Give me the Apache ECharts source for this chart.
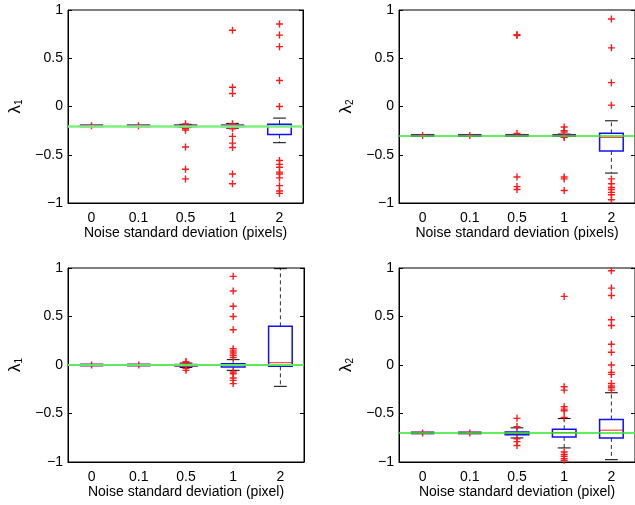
<!DOCTYPE html>
<html>
<head>
<meta charset="utf-8">
<script src="https://cdn.jsdelivr.net/npm/echarts@6/dist/echarts.min.js"></script>
<style>
  html, body { margin: 0; padding: 0; background: #fff; }
  #chart { width: 635px; height: 505px; }
</style>
</head>
<body>
<div id="chart"></div>
<script>
// noise levels on the x axis
const categories = ["0", "0.1", "0.5", "1", "2"];

// true value of each eigenvalue (green reference line)
const trueValues = [-0.2, -0.3, 0, -0.7];

// boxes: [lower whisker, Q1, median, Q3, upper whisker] per noise level
const boxesTL = [
  [-0.2, -0.2, -0.2, -0.2, -0.2],
  [-0.2, -0.2, -0.2, -0.2, -0.2],
  [-0.215, -0.205, -0.2, -0.195, -0.185],
  [-0.225, -0.21, -0.2, -0.19, -0.175],
  [-0.375, -0.29, -0.205, -0.183, -0.12]
];
const boxesTR = [
  [-0.3, -0.3, -0.3, -0.3, -0.3],
  [-0.3, -0.3, -0.3, -0.3, -0.3],
  [-0.31, -0.305, -0.3, -0.295, -0.29],
  [-0.31, -0.305, -0.3, -0.295, -0.286],
  [-0.69, -0.46, -0.32, -0.278, -0.148]
];
const boxesBL = [
  [0, 0, 0, 0, 0],
  [0, 0, 0, 0, 0],
  [-0.025, -0.015, -0.003, 0.01, 0.02],
  [-0.055, -0.02, -0.003, 0.014, 0.055],
  [-0.22, -0.014, 0.024, 0.399, 0.993]
];
const boxesBR = [
  [-0.7, -0.7, -0.7, -0.7, -0.7],
  [-0.7, -0.7, -0.7, -0.7, -0.7],
  [-0.752, -0.72, -0.707, -0.69, -0.648],
  [-0.855, -0.741, -0.697, -0.662, -0.552],
  [-0.976, -0.752, -0.672, -0.562, -0.286]
];

// outliers per noise level
const outliersTL = [
  [-0.2],
  [-0.2],
  [-0.18, -0.22, -0.23, -0.245, -0.42, -0.65, -0.75],
  [0.79, 0.2, 0.135, -0.18, -0.23, -0.31, -0.38, -0.425, -0.7, -0.8],
  [0.855, 0.74, 0.62, 0.27, 0.0, -0.56, -0.6, -0.63, -0.68, -0.7, -0.74, -0.82, -0.875, -0.9]
];
const outliersTR = [
  [-0.3],
  [-0.3],
  [0.745, 0.735, -0.28, -0.73, -0.83, -0.86],
  [-0.213, -0.25, -0.265, -0.313, -0.32, -0.73, -0.75, -0.87],
  [0.907, 0.608, 0.247, 0.014, -0.75, -0.8, -0.84, -0.86, -0.89, -0.915, -0.966]
];
const outliersBL = [
  [0],
  [0],
  [0.035, 0.025, -0.035, -0.055],
  [0.914, 0.763, 0.605, 0.5, 0.364, 0.168, 0.144, 0.124, 0.1, 0.077, -0.072, -0.09, -0.134, -0.158, -0.192],
  []
];
const outliersBR = [
  [-0.7],
  [-0.7],
  [-0.55, -0.635, -0.76, -0.79, -0.83],
  [0.707, -0.224, -0.259, -0.431, -0.455, -0.472, -0.541, -0.897, -0.921, -0.941, -0.966, -0.983],
  [0.972, 0.793, 0.717, 0.466, 0.407, 0.214, 0.131, 0.0, -0.076, -0.097, -0.19, -0.217, -0.234, -0.259]
];

const panels = [
  { boxes: boxesTL, outliers: outliersTL, sub: "1", xName: "Noise standard deviation (pixels)" },
  { boxes: boxesTR, outliers: outliersTR, sub: "2", xName: "Noise standard deviation (pixels)" },
  { boxes: boxesBL, outliers: outliersBL, sub: "1", xName: "Noise standard deviation (pixel)" },
  { boxes: boxesBR, outliers: outliersBR, sub: "2", xName: "Noise standard deviation (pixel)" }
];

const grids = [
  { left: 68, top: 10, width: 235, height: 193 },
  { left: 399, top: 10, width: 236, height: 193 },
  { left: 68, top: 268, width: 236, height: 194 },
  { left: 399, top: 268, width: 236, height: 194 }
];
const refLine = [
  { color: "#7cf07c", width: 2.5 },
  { color: "#2ee82e", width: 1.5 },
  { color: "#5ee85e", width: 2 },
  { color: "#2ee82e", width: 1.5 }
];

const FONT = "'Liberation Sans', Arial, Helvetica, sans-serif";
const plus = "path://M4,0H6V4H10V6H6V10H4V6H0V4H4Z";

function renderBox(params, api) {
  const x = api.value(0);
  const lo = api.coord([x, api.value(1)]);
  const q1 = api.coord([x, api.value(2)]);
  const md = api.coord([x, api.value(3)]);
  const q3 = api.coord([x, api.value(4)]);
  const hi = api.coord([x, api.value(5)]);
  const band = api.size([1, 0])[0];
  const hw = band * 0.25, cw = band * 0.135;
  const cx = md[0];
  const dash = { stroke: "#333", lineWidth: 1, lineDash: [4, 3] };
  const solid = { stroke: "#000", lineWidth: 1 };
  const h = q1[1] - q3[1];
  const children = [];
  if (lo[1] - hi[1] > 1) {
    children.push(
      { type: "line", shape: { x1: cx, y1: q3[1], x2: cx, y2: hi[1] }, style: dash },
      { type: "line", shape: { x1: cx, y1: q1[1], x2: cx, y2: lo[1] }, style: dash },
      { type: "line", shape: { x1: cx - cw, y1: hi[1], x2: cx + cw, y2: hi[1] }, style: solid },
      { type: "line", shape: { x1: cx - cw, y1: lo[1], x2: cx + cw, y2: lo[1] }, style: solid }
    );
  }
  if (h < 2.5) {
    // nearly collapsed box: blue outline and red median merge into one purple bar
    children.push({
      type: "line",
      shape: { x1: cx - hw, y1: md[1], x2: cx + hw, y2: md[1] },
      style: { stroke: "#7a1490", lineWidth: 3 }
    });
  } else {
    children.push(
      {
        type: "rect",
        shape: { x: cx - hw, y: q3[1], width: 2 * hw, height: h },
        style: { stroke: "#1010ff", fill: "none", lineWidth: 1.5 }
      },
      {
        type: "line",
        shape: { x1: cx - hw, y1: md[1], x2: cx + hw, y2: md[1] },
        style: { stroke: "#ff0000", lineWidth: 1, opacity: 0.85 }
      }
    );
  }
  return { type: "group", children: children };
}

const xAxis = [], yAxis = [], series = [];
panels.forEach((p, gi) => {
  xAxis.push({
    type: "category",
    gridIndex: gi,
    data: categories,
    boundaryGap: true,
    axisLine: { onZero: false, lineStyle: { color: "#000", width: 1 } },
    axisTick: { inside: true, alignWithLabel: true, length: 3, lineStyle: { color: "#000" } },
    axisLabel: { color: "#000", fontSize: 14, fontFamily: FONT, margin: 8 },
    name: p.xName,
    nameLocation: "middle",
    nameGap: 20,
    nameTextStyle: { color: "#000", fontSize: 14, fontFamily: FONT }
  });
  yAxis.push({
    type: "value",
    gridIndex: gi,
    min: -1, max: 1, interval: 0.5,
    axisLine: { show: true, onZero: false, lineStyle: { color: "#000", width: 1 } },
    axisTick: { show: true, inside: true, length: 4, lineStyle: { color: "#000" } },
    splitLine: { show: false },
    axisLabel: {
      color: "#000", fontSize: 14, fontFamily: FONT, margin: 5,
      formatter: v => String(v).replace("-", "\u2212")
    },
    name: "{l|\u03bb}{s|" + p.sub + "}",
    nameLocation: "middle",
    nameGap: 44,
    nameTextStyle: {
      color: "#000",
      rich: {
        l: { fontSize: 17, fontFamily: FONT, lineHeight: 17, verticalAlign: "top", color: "#000" },
        s: { fontSize: 10, fontFamily: FONT, lineHeight: 10, padding: [9, 0, 0, 0], verticalAlign: "bottom", color: "#000" }
      }
    }
  });
  yAxis.push({
    type: "value",
    gridIndex: gi,
    position: "right",
    min: -1, max: 1, interval: 0.5,
    axisLine: { show: true, onZero: false, lineStyle: { color: "#000", width: 1 } },
    axisTick: { show: true, inside: true, length: 4, lineStyle: { color: "#000" } },
    splitLine: { show: false },
    axisLabel: { show: false }
  });

  // true value reference line
  series.push({
    type: "line",
    xAxisIndex: gi,
    yAxisIndex: gi * 2,
    data: [],
    z: 1,
    markLine: {
      silent: true,
      symbol: "none",
      label: { show: false },
      lineStyle: { color: refLine[gi].color, width: refLine[gi].width, type: "solid", opacity: 1 },
      data: [{ yAxis: trueValues[gi] }]
    }
  });

  series.push({
    type: "custom",
    xAxisIndex: gi,
    yAxisIndex: gi * 2,
    z: 3,
    renderItem: renderBox,
    encode: { x: 0, y: [1, 2, 3, 4, 5] },
    data: p.boxes.map((b, i) => [i].concat(b))
  });

  const pts = [];
  p.outliers.forEach((list, i) => list.forEach(v => pts.push([i, v])));
  series.push({
    type: "scatter",
    xAxisIndex: gi,
    yAxisIndex: gi * 2,
    z: 4,
    symbol: plus,
    symbolSize: 7,
    itemStyle: { color: "#ff1a1a", opacity: 1 },
    data: pts
  });
});

const chart = echarts.init(document.getElementById("chart"), null, { renderer: "canvas" });
chart.setOption({
  animation: false,
  backgroundColor: "#fff",
  grid: grids.map(g => Object.assign({ show: true, borderColor: "#000", borderWidth: 1, backgroundColor: "transparent" }, g)),
  xAxis: xAxis,
  yAxis: yAxis,
  series: series
});
</script>
</body>
</html>
